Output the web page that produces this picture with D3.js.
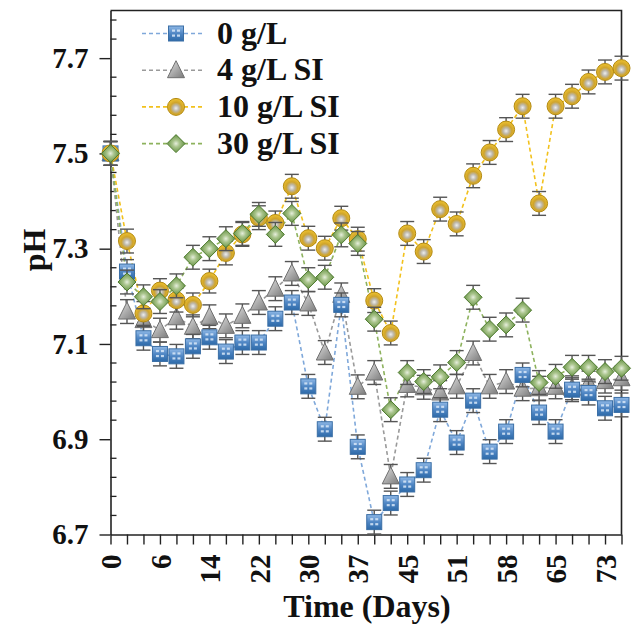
<!DOCTYPE html>
<html>
<head>
<meta charset="utf-8">
<script src="https://cdn.jsdelivr.net/npm/d3@7/dist/d3.min.js"></script>
<style>
  html, body { margin: 0; padding: 0; background: #fff; }
  svg { display: block; }
  text { font-family: "Liberation Serif", "Times New Roman", serif; font-weight: bold; fill: #111; }
</style>
</head>
<body>
<svg id="chart" width="633" height="626"></svg>
<script>
// Sampling points along the x axis; only every third one carries a day label
const dayLabels = ["0","","","6","","","14","","","22","","","30","","","37","","","45","","","51","","","58","","","65","","","73",""];

// pH readings for each treatment, one value per sampling point
const ph0 = [7.50, 7.252, 7.112, 7.079, 7.074, 7.095, 7.114, 7.084, 7.103, 7.103, 7.153, 7.187, 7.011, 6.921, 7.182, 6.884,
             6.726, 6.766, 6.805, 6.835, 6.962, 6.893, 6.981, 6.874, 6.916, 7.035, 6.956, 6.916, 7.004, 6.997, 6.965, 6.972];
const ph4 = [7.50, 7.168, 7.150, 7.129, 7.156, 7.136, 7.157, 7.138, 7.159, 7.187, 7.216, 7.248, 7.185, 7.082, 7.203, 7.010,
             7.040, 6.822, 7.014, 7.009, 6.998, 7.011, 7.081, 7.011, 7.021, 7.006, 7.007, 7.010, 7.008, 7.018, 7.022, 7.028];
const ph10 = [7.50, 7.316, 7.164, 7.212, 7.192, 7.182, 7.232, 7.291, 7.330, 7.365, 7.354, 7.431, 7.322, 7.301, 7.364, 7.320,
              7.191, 7.123, 7.332, 7.294, 7.383, 7.352, 7.453, 7.502, 7.550, 7.599, 7.395, 7.599, 7.620, 7.650, 7.671, 7.679];
const ph30 = [7.50, 7.230, 7.199, 7.189, 7.222, 7.282, 7.300, 7.321, 7.332, 7.372, 7.330, 7.374, 7.235, 7.240, 7.329, 7.311,
              7.152, 6.962, 7.040, 7.021, 7.031, 7.061, 7.198, 7.131, 7.140, 7.171, 7.019, 7.032, 7.051, 7.051, 7.042, 7.049];

// Standard deviation drawn as error bars
const phError = 0.025;

const seriesNames = ["0 g/L", "4 g/L SI", "10 g/L SI", "30 g/L SI"];
const yTicks = [6.7, 6.9, 7.1, 7.3, 7.5, 7.7];

const series = [
  { name: seriesNames[0], values: ph0,  line: "#7fa8da", shape: "square" },
  { name: seriesNames[1], values: ph4,  line: "#9a9a9a", shape: "triangle" },
  { name: seriesNames[2], values: ph10, line: "#f2c11c", shape: "ball" },
  { name: seriesNames[3], values: ph30, line: "#8db25d", shape: "diamond" }
];

const svg = d3.select("#chart");
const plot = { left: 110.5, right: 621.5, top: 10.5, bottom: 534.5 };

const x = d3.scaleLinear().domain([0, dayLabels.length - 1]).range([plot.left, plot.right]);
const y = d3.scaleLinear().domain([6.7, 7.8]).range([plot.bottom, plot.top]);

// ---------- gradients for the glossy markers ----------
const defs = svg.append("defs");

const gBlue = defs.append("linearGradient").attr("id", "gBlue").attr("x1", 0).attr("y1", 0).attr("x2", 0).attr("y2", 1);
gBlue.append("stop").attr("offset", "0%").attr("stop-color", "#8fb8e6");
gBlue.append("stop").attr("offset", "50%").attr("stop-color", "#4f86c4");
gBlue.append("stop").attr("offset", "100%").attr("stop-color", "#2d6aa9");

const gGray = defs.append("linearGradient").attr("id", "gGray").attr("x1", 0).attr("y1", 0).attr("x2", 1).attr("y2", 1);
gGray.append("stop").attr("offset", "0%").attr("stop-color", "#e4e4e4");
gGray.append("stop").attr("offset", "55%").attr("stop-color", "#a8a8a8");
gGray.append("stop").attr("offset", "100%").attr("stop-color", "#7a7a7a");

const gGold = defs.append("radialGradient").attr("id", "gGold").attr("cx", "50%").attr("cy", "58%").attr("r", "58%");
gGold.append("stop").attr("offset", "0%").attr("stop-color", "#eeeeee");
gGold.append("stop").attr("offset", "30%").attr("stop-color", "#bdb7a8");
gGold.append("stop").attr("offset", "58%").attr("stop-color", "#cfa42c");
gGold.append("stop").attr("offset", "100%").attr("stop-color", "#f0c430");

const gGreen = defs.append("radialGradient").attr("id", "gGreen").attr("cx", "50%").attr("cy", "50%").attr("r", "55%");
gGreen.append("stop").attr("offset", "0%").attr("stop-color", "#e6eedc");
gGreen.append("stop").attr("offset", "35%").attr("stop-color", "#a9c48c");
gGreen.append("stop").attr("offset", "100%").attr("stop-color", "#5d8c3a");

// Draw one marker of a given shape centred at (cx, cy)
function marker(g, shape, cx, cy) {
  if (shape === "square") {
    const s = 15;
    g.append("rect").attr("x", cx - s / 2).attr("y", cy - s / 2).attr("width", s).attr("height", s)
      .attr("fill", "url(#gBlue)").attr("stroke", "#3b6fa6").attr("stroke-width", 1);
    // light tile pattern on the face
    [[-4, -4], [1, -4], [-4, 1], [1, 1]].forEach(([dx, dy]) => {
      g.append("rect").attr("x", cx + dx).attr("y", cy + dy).attr("width", 3).attr("height", 2.2)
        .attr("fill", "#d8e8f8").attr("opacity", 0.85);
    });
  } else if (shape === "triangle") {
    const h = 17, w = 17;
    g.append("path")
      .attr("d", `M${cx},${cy - h / 2 - 1}L${cx + w / 2},${cy + h / 2 - 1}L${cx - w / 2},${cy + h / 2 - 1}Z`)
      .attr("fill", "url(#gGray)").attr("stroke", "#6f6f6f").attr("stroke-width", 1);
  } else if (shape === "ball") {
    g.append("circle").attr("cx", cx).attr("cy", cy).attr("r", 8.5)
      .attr("fill", "url(#gGold)").attr("stroke", "#b38a12").attr("stroke-width", 1);
  } else if (shape === "diamond") {
    const r = 9;
    g.append("path")
      .attr("d", `M${cx},${cy - r}L${cx + r},${cy}L${cx},${cy + r}L${cx - r},${cy}Z`)
      .attr("fill", "url(#gGreen)").attr("stroke", "#4d7a2e").attr("stroke-width", 1);
  }
}

// ---------- axes ----------
const axisColor = "#222";

// x axis: a tick at every sampling point, labels rotated
const xAxis = svg.append("g").attr("transform", `translate(0,${plot.bottom})`)
  .call(d3.axisBottom(x).tickValues(d3.range(dayLabels.length)).tickSize(10).tickSizeOuter(0)
    .tickFormat(i => dayLabels[i]));
xAxis.select(".domain").attr("stroke", axisColor).attr("stroke-width", 1.6);
xAxis.selectAll(".tick line").attr("stroke", axisColor).attr("stroke-width", 1.4);
xAxis.selectAll(".tick text")
  .attr("transform", "rotate(-90)")
  .attr("text-anchor", "end")
  .attr("x", -20).attr("y", 0).attr("dy", "0.35em")
  .style("font-size", "29px").style("font-family", "'Liberation Serif', serif").style("font-weight", "bold")
  .attr("fill", "#111");

// y axis: outward major ticks with labels
const yAxis = svg.append("g").attr("transform", `translate(${plot.left},0)`)
  .call(d3.axisLeft(y).tickValues(yTicks).tickSize(11).tickSizeOuter(0).tickFormat(d3.format(".1f")));
yAxis.select(".domain").attr("stroke", axisColor).attr("stroke-width", 1.6);
yAxis.selectAll(".tick line").attr("stroke", axisColor).attr("stroke-width", 1.4);
yAxis.selectAll(".tick text")
  .attr("x", -22)
  .style("font-size", "29px").style("font-family", "'Liberation Serif', serif").style("font-weight", "bold")
  .attr("fill", "#111");

// y axis: inward minor ticks
const minorTicks = d3.range(6.74, 7.8, 0.04).filter(v => yTicks.every(t => Math.abs(t - v) > 1e-6));
svg.append("g").selectAll("line").data(minorTicks).join("line")
  .attr("x1", plot.left).attr("x2", plot.left + 6)
  .attr("y1", d => y(d)).attr("y2", d => y(d))
  .attr("stroke", axisColor).attr("stroke-width", 1.3);

// frame: top and right edges
svg.append("path")
  .attr("d", `M${plot.left},${plot.top}H${plot.right}V${plot.bottom}`)
  .attr("fill", "none").attr("stroke", axisColor).attr("stroke-width", 1.6);

// axis titles
svg.append("text").attr("x", 367).attr("y", 617).attr("text-anchor", "middle")
  .style("font-size", "32px").text("Time (Days)");
svg.append("text").attr("transform", "translate(45,250) rotate(-90)").attr("text-anchor", "middle")
  .style("font-size", "32px").text("pH");

// ---------- series ----------
const order = [1, 0, 2, 3];
const line = d3.line().x((d, i) => x(i)).y(d => y(d));

order.forEach(k => {
  const s = series[k];
  svg.append("path").datum(s.values).attr("d", line)
    .attr("fill", "none").attr("stroke", s.line).attr("stroke-width", 1.6)
    .attr("stroke-dasharray", "4,3");
});

order.forEach(k => {
  const s = series[k];
  const g = svg.append("g");
  s.values.forEach((v, i) => {
    const cx = x(i);
    const top = y(v + phError), bot = y(v - phError);
    g.append("line").attr("x1", cx).attr("x2", cx).attr("y1", top).attr("y2", bot)
      .attr("stroke", "#555").attr("stroke-width", 1.4);
    [top, bot].forEach(yy => g.append("line").attr("x1", cx - 7).attr("x2", cx + 7)
      .attr("y1", yy).attr("y2", yy).attr("stroke", "#555").attr("stroke-width", 1.4));
  });
  s.values.forEach((v, i) => marker(g, s.shape, x(i), y(v)));
});

// ---------- legend ----------
const legend = svg.append("g");
series.forEach((s, k) => {
  const cy = 33.5 + k * 36.7;
  legend.append("line").attr("x1", 142).attr("x2", 203).attr("y1", cy).attr("y2", cy)
    .attr("stroke", s.line).attr("stroke-width", 1.6).attr("stroke-dasharray", "4,3");
  marker(legend, s.shape, 176, cy);
  legend.append("text").attr("x", 217).attr("y", cy + 10)
    .style("font-size", "32px").text(s.name);
});
</script>
</body>
</html>
